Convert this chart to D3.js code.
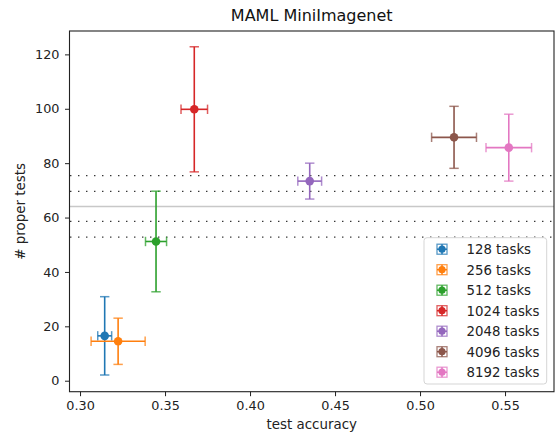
<!DOCTYPE html>
<html>
<head>
<meta charset="utf-8">
<script src="https://cdn.jsdelivr.net/npm/d3@7"></script>
<style>
  body { margin: 0; background: #fff; }
  svg { font-family: "DejaVu Sans", sans-serif; }
</style>
</head>
<body>
<div id="chart"></div>
<script>
// values
var taskLabels = ["128 tasks", "256 tasks", "512 tasks", "1024 tasks", "2048 tasks", "4096 tasks", "8192 tasks"];
var accMean = [0.3145, 0.3224, 0.3447, 0.3672, 0.4351, 0.5200, 0.5522];
var accErr = [0.0041, 0.0159, 0.0062, 0.0078, 0.0070, 0.0132, 0.0134];
var properMean = [16.5, 14.5, 51.2, 99.8, 73.4, 89.5, 85.7];
var properErr = [14.4, 8.5, 18.5, 23.0, 6.6, 11.4, 12.3];
var colors = ["#1f77b4", "#ff7f0e", "#2ca02c", "#d62728", "#9467bd", "#8c564b", "#e377c2"];

var refMean = 64.1;
var refBands = [5.5, 11.3];

var xTicks = [0.30, 0.35, 0.40, 0.45, 0.50, 0.55];
var yTicks = [0, 20, 40, 60, 80, 100, 120];

var W = 555, H = 435;
var margin = { top: 31, right: 1, bottom: 43.3, left: 69.5 },
    width = W - margin.left - margin.right,
    height = H - margin.top - margin.bottom;

var svg = d3.select("#chart").append("svg")
    .attr("width", W)
    .attr("height", H);

var g = svg.append("g")
    .attr("transform", "translate(" + margin.left + "," + margin.top + ")");

var x = d3.scaleLinear().domain([0.2938, 0.5788]).range([0, width]);
var y = d3.scaleLinear().domain([-4.04, 128.6]).range([height, 0]);

// reference lines
g.append("line")
    .attr("x1", 0).attr("x2", width)
    .attr("y1", y(refMean)).attr("y2", y(refMean))
    .attr("stroke", "#c8c8c8").attr("stroke-width", 1.5);

refBands.forEach(function (b) {
    [refMean + b, refMean - b].forEach(function (v) {
        g.append("line")
            .attr("x1", 0).attr("x2", width)
            .attr("y1", y(v)).attr("y2", y(v))
            .attr("stroke", "#222").attr("stroke-width", 1.3)
            .attr("stroke-dasharray", "1.3,6.7")
            .attr("stroke-dashoffset", -8.6);
    });
});

// error bars
var cap = 4.7;
var pts = g.selectAll(".pt").data(taskLabels).enter().append("g").attr("class", "pt");

pts.each(function (d, i) {
    var s = d3.select(this), c = colors[i];
    var cx = x(accMean[i]), cy = y(properMean[i]);
    var x0 = x(accMean[i] - accErr[i]), x1 = x(accMean[i] + accErr[i]);
    var y0 = y(properMean[i] - properErr[i]), y1 = y(properMean[i] + properErr[i]);
    s.append("line").attr("x1", x0).attr("x2", x1).attr("y1", cy).attr("y2", cy)
        .attr("stroke", c).attr("stroke-width", 1.6);
    s.append("line").attr("x1", cx).attr("x2", cx).attr("y1", y0).attr("y2", y1)
        .attr("stroke", c).attr("stroke-width", 1.6);
    // caps
    [x0, x1].forEach(function (xx) {
        s.append("line").attr("x1", xx).attr("x2", xx).attr("y1", cy - cap).attr("y2", cy + cap)
            .attr("stroke", c).attr("stroke-width", 1.5).attr("stroke-opacity", 0.75);
    });
    [y0, y1].forEach(function (yy) {
        s.append("line").attr("x1", cx - cap).attr("x2", cx + cap).attr("y1", yy).attr("y2", yy)
            .attr("stroke", c).attr("stroke-width", 1.5).attr("stroke-opacity", 0.75);
    });
    s.append("circle").attr("cx", cx).attr("cy", cy).attr("r", 4.3).attr("fill", c);
});

// axes
var xAxis = d3.axisBottom(x).tickValues(xTicks).tickFormat(d3.format(".2f")).tickSize(4.5).tickPadding(4.5);
var yAxis = d3.axisLeft(y).tickValues(yTicks).tickFormat(d3.format("d")).tickSize(4.5).tickPadding(5.5);

var gx = g.append("g").attr("transform", "translate(0," + height + ")").call(xAxis);
var gy = g.append("g").call(yAxis);
[gx, gy].forEach(function (a) {
    a.select(".domain").remove();
    a.selectAll("text").attr("font-size", "12.8px").attr("fill", "#222")
        .attr("font-family", "DejaVu Sans, sans-serif");
    a.selectAll("line").attr("stroke", "#222").attr("stroke-width", 1);
});

g.append("rect")
    .attr("x", 0).attr("y", 0).attr("width", width).attr("height", height)
    .attr("fill", "none").attr("stroke", "#222").attr("stroke-width", 1.1);

// labels
svg.append("text")
    .attr("x", margin.left + width / 2).attr("y", 21)
    .attr("text-anchor", "middle").attr("font-size", "16px").attr("fill", "#111")
    .text("MAML MiniImagenet");

svg.append("text")
    .attr("x", margin.left + width / 2).attr("y", 429)
    .attr("text-anchor", "middle").attr("font-size", "13.4px").attr("fill", "#222")
    .text("test accuracy");

svg.append("text")
    .attr("transform", "translate(25," + (margin.top + height / 2) + ") rotate(-90)")
    .attr("text-anchor", "middle").attr("font-size", "13.4px").attr("fill", "#222")
    .text("# proper tests");

// legend
var leg = svg.append("g").attr("transform", "translate(424,237.7)");
leg.append("rect")
    .attr("width", 122.7).attr("height", 146.3).attr("rx", 3)
    .attr("fill", "#fff").attr("fill-opacity", 0.85)
    .attr("stroke", "#d5d5d5").attr("stroke-width", 1);

var rows = leg.selectAll(".row").data(taskLabels).enter().append("g")
    .attr("transform", function (d, i) { return "translate(18," + (11.5 + i * 20.5) + ")"; });

rows.each(function (d, i) {
    var s = d3.select(this), c = colors[i], h = 5;
    s.append("line").attr("x1", -h).attr("x2", h).attr("y1", 0).attr("y2", 0).attr("stroke", c).attr("stroke-width", 1.5);
    s.append("line").attr("x1", 0).attr("x2", 0).attr("y1", -h).attr("y2", h).attr("stroke", c).attr("stroke-width", 1.5);
    s.append("rect").attr("x", -h).attr("y", -h).attr("width", 2 * h).attr("height", 2 * h)
        .attr("fill", "none").attr("stroke", c).attr("stroke-width", 1.3).attr("stroke-opacity", 0.75);
    s.append("circle").attr("r", 3.6).attr("fill", c);
    s.append("text").attr("x", 24.5).attr("y", 4.8)
        .attr("font-size", "13.3px").attr("fill", "#222").text(d);
});
</script>
</body>
</html>
